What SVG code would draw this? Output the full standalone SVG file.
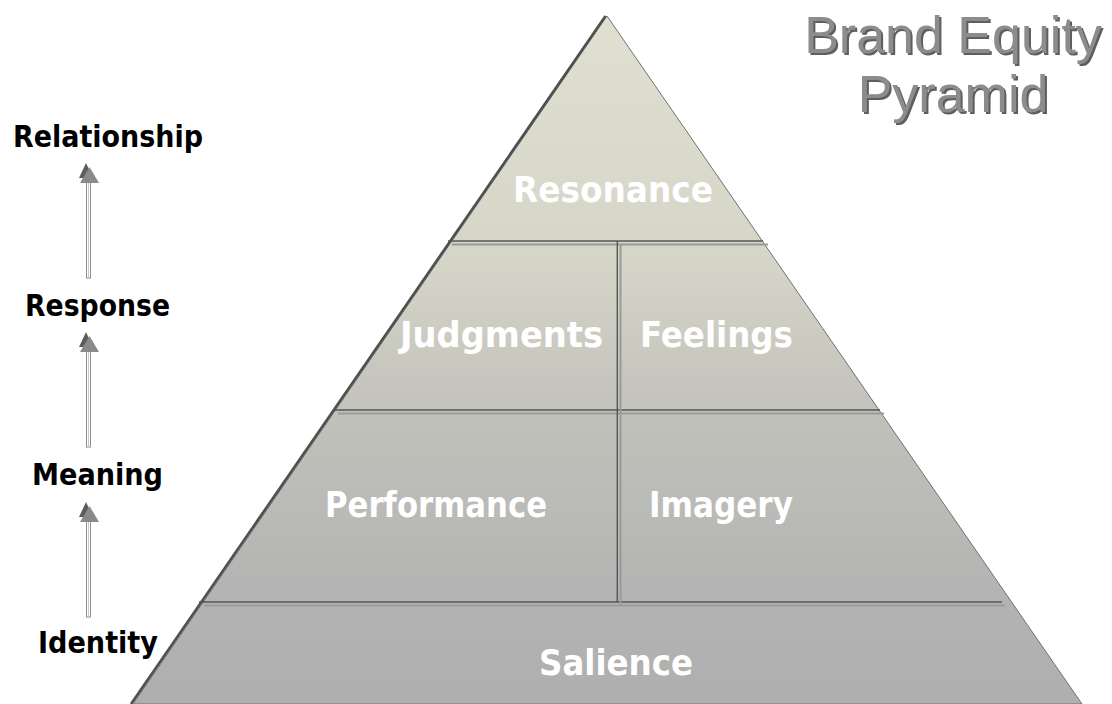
<svg xmlns="http://www.w3.org/2000/svg" width="1112" height="704" viewBox="0 0 1112 704">
  <defs>
    <linearGradient id="pyrFill" gradientUnits="userSpaceOnUse" x1="0" y1="15" x2="0" y2="704">
      <stop offset="0" stop-color="#e0e0d2"/>
      <stop offset="0.35" stop-color="#d5d5c8"/>
      <stop offset="0.6" stop-color="#c0c0ba"/>
      <stop offset="0.85" stop-color="#b3b3b3"/>
      <stop offset="1" stop-color="#afafaf"/>
    </linearGradient>
    <g id="arrow">
      <!-- shadow head -->
      <polygon points="86,0 79,15 93,15" fill="#5c5c5c"/>
      <!-- shaft -->
      <rect x="86.5" y="18" width="4" height="97" fill="#ffffff" stroke="#8e8e8e" stroke-width="1"/>
      <line x1="88.5" y1="18" x2="88.5" y2="115" stroke="#c8c8c8" stroke-width="1"/>
      <!-- head -->
      <polygon points="89.5,4 80,20 99,20" fill="#8a8a8a"/>
    </g>
  </defs>
  <style>
    .tier { font-family: "DejaVu Sans Condensed", "DejaVu Sans", "Liberation Sans", sans-serif; font-stretch: condensed; font-weight: bold; font-size: 36px; fill: #ffffff; text-anchor: middle; }
    .level { font-family: "DejaVu Sans Condensed", "DejaVu Sans", "Liberation Sans", sans-serif; font-stretch: condensed; font-weight: bold; font-size: 29.7px; fill: #000000; text-anchor: middle; }
    .title { font-family: "Liberation Sans", Arial, sans-serif; font-size: 52px; text-anchor: middle; }
    .rule { stroke: #555555; stroke-width: 1.4; }
    .rule-hi { stroke: #9a9a9a; stroke-width: 2; }
  </style>

  <rect width="1112" height="704" fill="#ffffff"/>

  <!-- title -->
  <g id="title">
    <text class="title" x="955" y="55" fill="#5e5e5e">Brand Equity</text>
    <text class="title" x="955" y="114" fill="#5e5e5e">Pyramid</text>
    <text class="title" x="953" y="53" fill="#8c8c8c">Brand Equity</text>
    <text class="title" x="953" y="112" fill="#8c8c8c">Pyramid</text>
  </g>

  <!-- pyramid body -->
  <g id="pyramid">
    <polygon points="607,16 1082,704 133,704" fill="url(#pyrFill)" stroke="#707070" stroke-width="1"/>
    <line x1="605.5" y1="16" x2="131" y2="704" stroke="#4f4f4f" stroke-width="2.6"/>
  </g>

  <!-- tier dividers -->
  <g id="dividers">
    <line class="rule-hi" x1="452" y1="244.5" x2="768" y2="244.5"/>
    <line class="rule" x1="448" y1="241" x2="763" y2="241"/>
    <line class="rule-hi" x1="338" y1="413.5" x2="884" y2="413.5"/>
    <line class="rule" x1="334" y1="410" x2="880" y2="410"/>
    <line class="rule-hi" x1="204" y1="605.5" x2="1005" y2="605.5"/>
    <line class="rule" x1="199" y1="602" x2="1002" y2="602"/>
    <line class="rule-hi" x1="620.5" y1="244" x2="620.5" y2="605"/>
    <line class="rule" x1="617.3" y1="241" x2="617.3" y2="602"/>
  </g>

  <!-- tier labels -->
  <g id="node-resonance"><text class="tier" x="613" y="202" textLength="200" lengthAdjust="spacingAndGlyphs">Resonance</text></g>
  <g id="node-judgments"><text class="tier" x="501.5" y="347" textLength="203" lengthAdjust="spacingAndGlyphs">Judgments</text></g>
  <g id="node-feelings"><text class="tier" x="716.5" y="347" textLength="153" lengthAdjust="spacingAndGlyphs">Feelings</text></g>
  <g id="node-performance"><text class="tier" x="436" y="517" textLength="222" lengthAdjust="spacingAndGlyphs">Performance</text></g>
  <g id="node-imagery"><text class="tier" x="721" y="517" textLength="144" lengthAdjust="spacingAndGlyphs">Imagery</text></g>
  <g id="node-salience"><text class="tier" x="616" y="675" textLength="154" lengthAdjust="spacingAndGlyphs">Salience</text></g>

  <!-- brand-building levels -->
  <g id="node-relationship"><text class="level" x="108" y="147" textLength="190" lengthAdjust="spacingAndGlyphs">Relationship</text></g>
  <g id="node-response"><text class="level" x="97.5" y="316" textLength="145" lengthAdjust="spacingAndGlyphs">Response</text></g>
  <g id="node-meaning"><text class="level" x="97.5" y="485" textLength="131" lengthAdjust="spacingAndGlyphs">Meaning</text></g>
  <g id="node-identity"><text class="level" x="98" y="653" textLength="120" lengthAdjust="spacingAndGlyphs">Identity</text></g>

  <!-- connectors between levels -->
  <g id="connectors">
    <use href="#arrow" x="0" y="163"/>
    <use href="#arrow" x="0" y="332"/>
    <use href="#arrow" x="0" y="502"/>
  </g>
</svg>
